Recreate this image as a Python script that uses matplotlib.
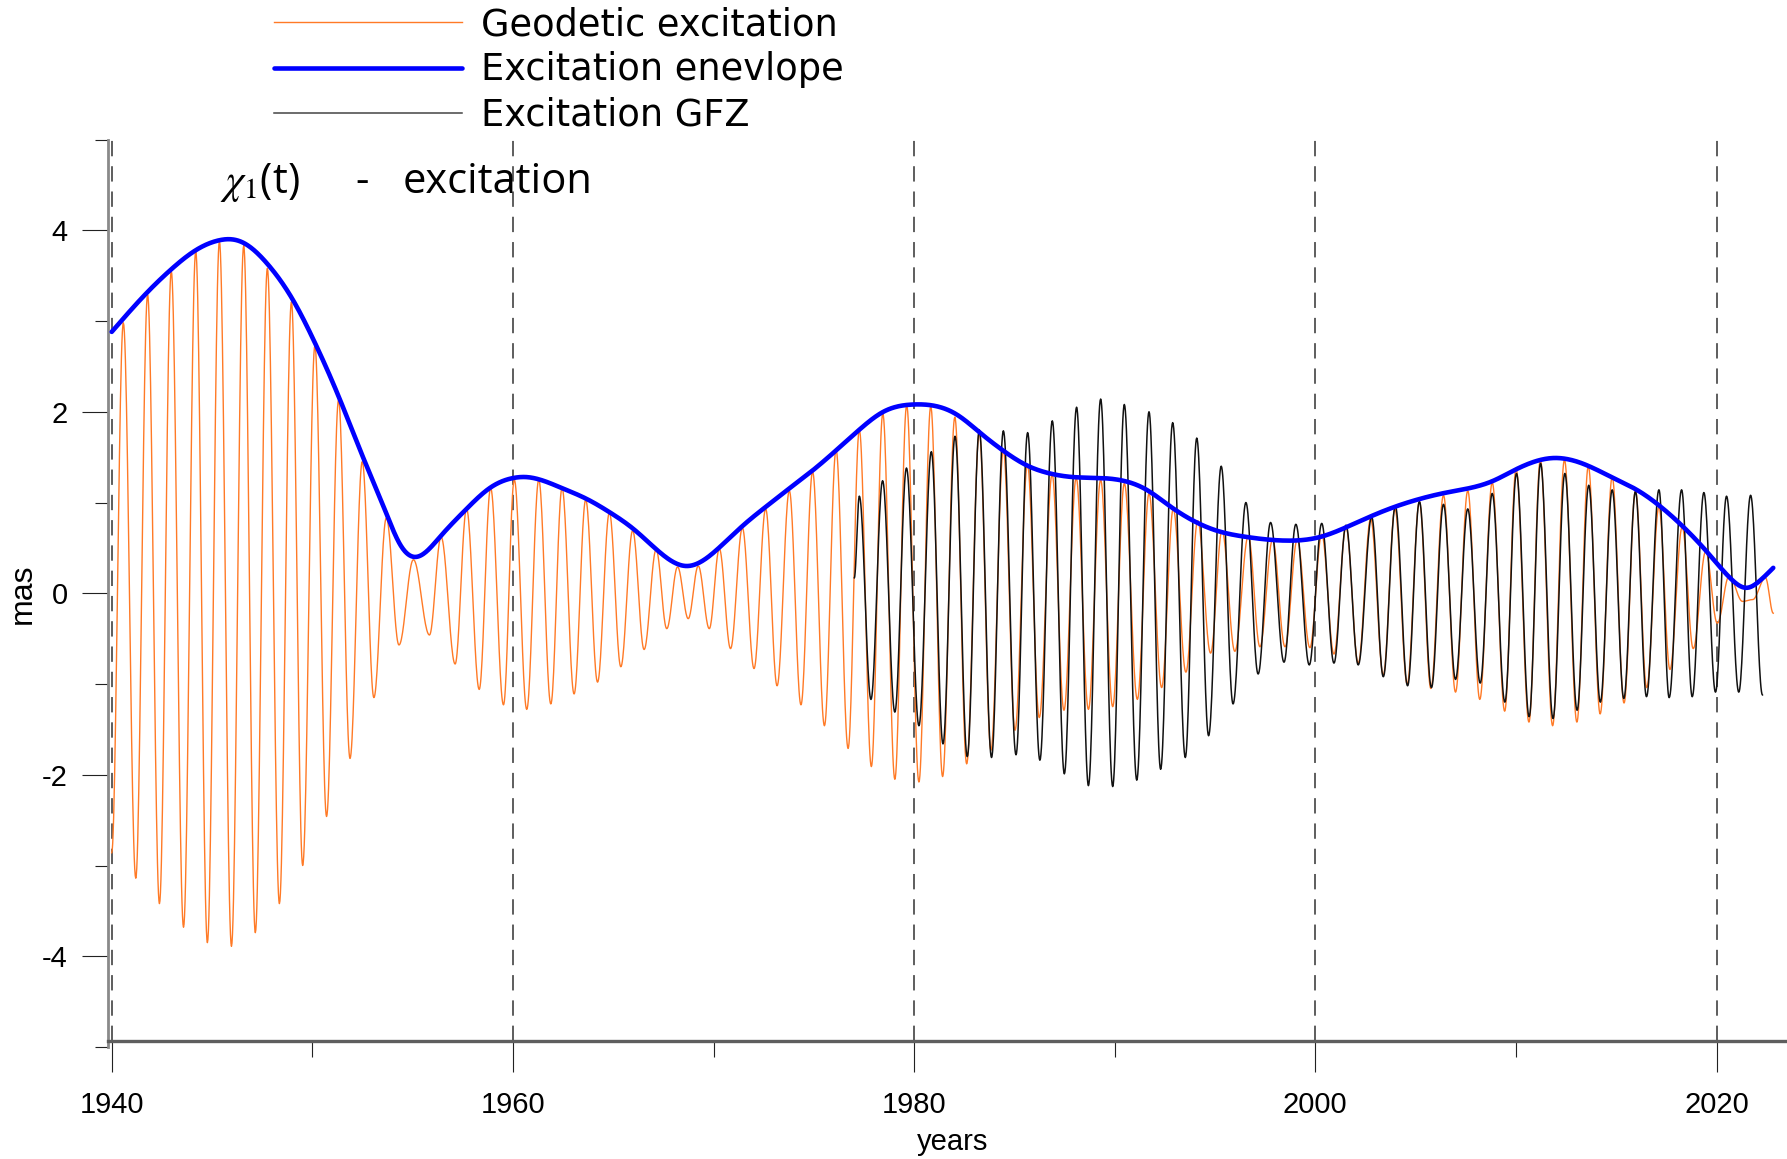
import numpy as np
import matplotlib
matplotlib.use("Agg")
import matplotlib.pyplot as plt
from matplotlib import font_manager
from matplotlib.ticker import MultipleLocator

# ---------------- data ----------------
# Geodetic excitation: successive extrema (time, value)
geo_t = [1940.00, 1940.58, 1941.20, 1941.79, 1942.38, 1942.97, 1943.58, 1944.19, 1944.77, 1945.37,
         1945.97, 1946.58, 1947.16, 1947.76, 1948.36, 1948.96, 1949.52, 1950.13, 1950.71, 1951.31,
         1951.88, 1952.49, 1953.07, 1953.69, 1954.32, 1955.04, 1955.84, 1956.42, 1957.12, 1957.69,
         1958.32, 1958.89, 1959.53, 1960.07, 1960.69, 1961.29, 1961.89, 1962.45, 1963.05, 1963.63,
         1964.22, 1964.81, 1965.38, 1965.97, 1966.54, 1967.14, 1967.67, 1968.21, 1968.74, 1969.24,
         1969.79, 1970.29, 1970.85, 1971.44, 1972.02, 1972.60, 1973.17, 1973.78, 1974.36, 1974.94,
         1975.53, 1976.11, 1976.71, 1977.27, 1977.87, 1978.44, 1979.04, 1979.63, 1980.24, 1980.83,
         1981.42, 1982.03, 1982.62, 1983.25, 1983.83, 1984.45, 1985.03, 1985.65, 1986.24, 1986.88,
         1987.47, 1988.08, 1988.69, 1989.30, 1989.90, 1990.48, 1991.13, 1991.71, 1992.34, 1992.92,
         1993.55, 1994.14, 1994.78, 1995.35, 1995.99, 1996.66, 1997.24, 1997.87, 1998.49, 1999.10,
         1999.73, 2000.32, 2000.93, 2001.53, 2002.14, 2002.76, 2003.39, 2003.97, 2004.58, 2005.19,
         2005.76, 2006.39, 2006.99, 2007.60, 2008.20, 2008.82, 2009.44, 2010.01, 2010.65, 2011.22,
         2011.83, 2012.42, 2013.04, 2013.61, 2014.20, 2014.80, 2015.39, 2015.96, 2016.52, 2017.13,
         2017.68, 2018.29, 2018.84, 2019.46, 2020.04, 2020.63, 2021.30, 2021.80, 2022.44, 2022.83]
geo_v = [-2.86, 2.98, -3.14, 3.29, -3.42, 3.55, -3.68, 3.77, -3.85, 3.88,
         -3.89, 3.83, -3.74, 3.58, -3.42, 3.21, -3.00, 2.73, -2.46, 2.13,
         -1.82, 1.45, -1.15, 0.83, -0.57, 0.37, -0.46, 0.62, -0.78, 0.93,
         -1.06, 1.16, -1.23, 1.25, -1.28, 1.25, -1.22, 1.16, -1.11, 1.03,
         -0.98, 0.89, -0.81, 0.69, -0.62, 0.48, -0.39, 0.29, -0.28, 0.30,
         -0.39, 0.49, -0.61, 0.72, -0.83, 0.93, -1.02, 1.13, -1.23, 1.34,
         -1.46, 1.58, -1.71, 1.80, -1.91, 1.98, -2.05, 2.07, -2.08, 2.06,
         -2.02, 1.94, -1.88, 1.77, -1.73, 1.58, -1.51, 1.42, -1.37, 1.31,
         -1.29, 1.27, -1.28, 1.25, -1.25, 1.21, -1.17, 1.10, -1.04, 0.93,
         -0.87, 0.80, -0.66, 0.69, -0.64, 0.63, -0.59, 0.59, -0.59, 0.59,
         -0.60, 0.65, -0.67, 0.73, -0.77, 0.82, -0.90, 0.93, -1.00, 1.01,
         -1.05, 1.08, -1.09, 1.13, -1.17, 1.22, -1.30, 1.37, -1.42, 1.47,
         -1.46, 1.47, -1.42, 1.40, -1.33, 1.28, -1.21, 1.13, -1.04, 0.95,
         -0.84, 0.73, -0.61, 0.46, -0.33, 0.19, -0.09, -0.07, 0.17, -0.22]

# Excitation GFZ: successive extrema (time, value)
gfz_t = [1977.02, 1977.27, 1977.85, 1978.43, 1979.04, 1979.62, 1980.24, 1980.86, 1981.44, 1982.04,
         1982.65, 1983.25, 1983.86, 1984.45, 1985.08, 1985.66, 1986.27, 1986.89, 1987.49, 1988.10,
         1988.69, 1989.30, 1989.90, 1990.48, 1991.10, 1991.71, 1992.29, 1992.89, 1993.52, 1994.09,
         1994.68, 1995.31, 1995.90, 1996.54, 1997.15, 1997.77, 1998.44, 1999.03, 1999.70, 2000.32,
         2000.93, 2001.53, 2002.14, 2002.81, 2003.39, 2003.99, 2004.60, 2005.19, 2005.79, 2006.39,
         2006.99, 2007.60, 2008.22, 2008.82, 2009.45, 2010.03, 2010.66, 2011.23, 2011.85, 2012.44,
         2013.05, 2013.63, 2014.21, 2014.80, 2015.38, 2015.96, 2016.51, 2017.13, 2017.64, 2018.26,
         2018.79, 2019.37, 2019.95, 2020.50, 2021.11, 2021.70, 2022.29]
gfz_v = [0.17, 1.07, -1.17, 1.24, -1.31, 1.38, -1.46, 1.56, -1.66, 1.73,
         -1.80, 1.80, -1.81, 1.79, -1.78, 1.77, -1.84, 1.90, -1.99, 2.05,
         -2.12, 2.14, -2.13, 2.08, -2.06, 2.00, -1.94, 1.88, -1.81, 1.71,
         -1.57, 1.40, -1.22, 1.00, -0.89, 0.78, -0.76, 0.76, -0.79, 0.77,
         -0.77, 0.75, -0.79, 0.84, -0.92, 0.96, -1.02, 1.01, -1.04, 0.98,
         -0.95, 0.93, -0.99, 1.10, -1.20, 1.32, -1.36, 1.43, -1.38, 1.32,
         -1.29, 1.19, -1.20, 1.14, -1.16, 1.12, -1.14, 1.14, -1.15, 1.14,
         -1.14, 1.11, -1.09, 1.07, -1.09, 1.08, -1.12]

# Excitation envelope: points along the curve (time, value)
env_t = [1940.00, 1941.79, 1942.97, 1944.19, 1945.37, 1945.98, 1946.58, 1947.76, 1948.96, 1950.13,
         1951.31, 1952.49, 1953.67, 1954.37, 1955.12, 1956.36, 1957.69, 1958.85, 1960.02, 1960.68,
         1962.43, 1963.67, 1964.84, 1966.00, 1967.17, 1968.66, 1970.32, 1971.49, 1972.65, 1973.81,
         1974.98, 1976.14, 1977.31, 1978.47, 1979.97, 1981.13, 1982.12, 1983.28, 1984.45, 1985.61,
         1986.77, 1987.93, 1989.26, 1990.42, 1991.59, 1992.75, 1993.91, 1995.08, 1996.58, 1998.57,
         2000.24, 2001.57, 2002.90, 2004.06, 2005.22, 2006.55, 2007.72, 2008.88, 2009.87, 2011.86,
         2013.19, 2014.86, 2016.02, 2017.18, 2018.35, 2019.51, 2020.67, 2021.50, 2022.17, 2022.83]
env_v = [2.88, 3.32, 3.57, 3.78, 3.89, 3.90, 3.86, 3.63, 3.26, 2.76,
         2.17, 1.52, 0.89, 0.54, 0.40, 0.62, 0.93, 1.16, 1.27, 1.28,
         1.16, 1.04, 0.89, 0.71, 0.48, 0.30, 0.51, 0.75, 0.96, 1.16,
         1.36, 1.58, 1.81, 2.00, 2.08, 2.06, 1.97, 1.77, 1.57, 1.41,
         1.32, 1.28, 1.27, 1.24, 1.14, 0.96, 0.80, 0.69, 0.62, 0.58,
         0.62, 0.73, 0.86, 0.96, 1.04, 1.11, 1.16, 1.24, 1.35, 1.49,
         1.44, 1.27, 1.14, 0.96, 0.73, 0.46, 0.17, 0.06, 0.14, 0.28]

grid_years = [1940, 1960, 1980, 2000, 2020]
series_labels = ["Geodetic excitation", "Excitation enevlope", "Excitation GFZ"]
title_parts = [r"$\chi_1$(t)", "-", "excitation"]
x_label = "years"
y_label = "mas"


# ---------------- curve rendering helpers (smooth drawing through read points) ----------------
def wave_curve(t, v, n=24):
    """Smooth oscillation drawn through successive extrema."""
    xs, ys = [], []
    for i in range(len(t) - 1):
        s = np.linspace(0.0, 1.0, n, endpoint=False)
        xs.append(t[i] + (t[i + 1] - t[i]) * s)
        ys.append(v[i] + (v[i + 1] - v[i]) * (1 - np.cos(np.pi * s)) / 2)
    xs.append([t[-1]])
    ys.append([v[-1]])
    return np.concatenate(xs), np.concatenate(ys)


def spline_curve(t, v, n=30):
    """Natural cubic spline drawn through the given points."""
    t = np.asarray(t, float)
    v = np.asarray(v, float)
    k = len(t)
    h = np.diff(t)
    A = np.zeros((k, k))
    r = np.zeros(k)
    A[0, 0] = A[-1, -1] = 1.0
    for i in range(1, k - 1):
        A[i, i - 1] = h[i - 1]
        A[i, i] = 2 * (h[i - 1] + h[i])
        A[i, i + 1] = h[i]
        r[i] = 6 * ((v[i + 1] - v[i]) / h[i] - (v[i] - v[i - 1]) / h[i - 1])
    M = np.linalg.solve(A, r)
    xs, ys = [], []
    for i in range(k - 1):
        x = np.linspace(t[i], t[i + 1], n, endpoint=False)
        a = t[i + 1] - x
        b = x - t[i]
        y = (M[i] * a**3 + M[i + 1] * b**3) / (6 * h[i]) \
            + (v[i] / h[i] - M[i] * h[i] / 6) * a + (v[i + 1] / h[i] - M[i + 1] * h[i] / 6) * b
        xs.append(x)
        ys.append(y)
    xs.append([t[-1]])
    ys.append([v[-1]])
    return np.concatenate(xs), np.concatenate(ys)


# ---------------- fonts ----------------
available = {f.name for f in font_manager.fontManager.ttflist}
sans = "Liberation Sans" if "Liberation Sans" in available else "DejaVu Sans"
if "Liberation Sans Narrow" in available:
    title_font, title_size = "Liberation Sans Narrow", 38
else:
    title_font, title_size = "Open Sans", 30
plt.rcParams["mathtext.fontset"] = "stix"
plt.rcParams["axes.unicode_minus"] = False

# ---------------- figure ----------------
W, H = 1787, 1159
fig = plt.figure(figsize=(W / 100, H / 100), dpi=100)
ax = fig.add_axes([108 / W, (H - 1047) / H, (W - 108) / W, 907.5 / H])

x0 = 1940 + (108 - 111.7) / 20.06
x1 = 1940 + (W - 111.7) / 20.06
ax.set_xlim(x0, x1)
ax.set_ylim(-5, 5)

gx, gy = wave_curve(geo_t, geo_v)
fx, fy = wave_curve(gfz_t, gfz_v)
ex, ey = spline_curve(env_t, env_v)

l_geo, = ax.plot(gx, gy, color="#ff7a26", lw=1.0, zorder=3, label=series_labels[0])
l_gfz, = ax.plot(fx, fy, color="#111111", lw=1.1, zorder=4, label=series_labels[2])
l_env, = ax.plot(ex, ey, color="#0000ff", lw=3.3, zorder=5, solid_capstyle="round",
                 label=series_labels[1])

bottom_val = -4.935
for yr in grid_years:
    ax.plot([yr, yr], [bottom_val, 5], color="#505050", lw=1.3, dashes=(8.5, 5.5), zorder=1)

# spines
ax.spines["top"].set_visible(False)
ax.spines["right"].set_visible(False)
ax.spines["bottom"].set_position(("data", bottom_val))
ax.spines["bottom"].set_color("#5e5e5e")
ax.spines["bottom"].set_linewidth(2.4)
ax.spines["left"].set_color("#8a8a8a")
ax.spines["left"].set_linewidth(2.0)

ax.xaxis.set_major_locator(MultipleLocator(20))
ax.xaxis.set_minor_locator(MultipleLocator(10))
ax.yaxis.set_major_locator(MultipleLocator(2))
ax.yaxis.set_minor_locator(MultipleLocator(1))

ax.tick_params(axis="x", which="major", direction="out", length=22, width=0.8,
               color="#222222", pad=14, labelsize=21)
ax.tick_params(axis="x", which="minor", direction="out", length=11.5, width=0.8,
               color="#222222")
ax.tick_params(axis="y", which="major", direction="out", length=19, width=0.8,
               color="#222222", pad=10, labelsize=21)
ax.tick_params(axis="y", which="minor", direction="out", length=9.5, width=0.8,
               color="#222222")
for lab in ax.get_xticklabels() + ax.get_yticklabels():
    lab.set_fontfamily(sans)

ax.set_xlabel(x_label, fontsize=21, fontfamily=sans)
ax.xaxis.set_label_coords((953 - 108) / (W - 108), (1047 - 1142) / 907.5)
ax.xaxis.label.set_verticalalignment("center")
ax.set_ylabel(y_label, fontsize=23, fontfamily=sans)
ax.yaxis.set_label_coords((23 - 108) / (W - 108), 0.5)
ax.yaxis.label.set_verticalalignment("center")

# title pieces
base_y = 1 - 193 / H
fig.text(220 / W, base_y, title_parts[0], fontsize=title_size, fontfamily=title_font,
         va="baseline", ha="left")
fig.text(362 / W, base_y, title_parts[1], fontsize=title_size, fontfamily=title_font,
         va="baseline", ha="center")
fig.text(403 / W, base_y, title_parts[2], fontsize=title_size, fontfamily=title_font,
         va="baseline", ha="left")

# legend
fs = 26.5
fs_px = fs * 100 / 72
leg = ax.legend(handles=[l_geo, l_env, l_gfz], labels=series_labels,
                loc="upper left", bbox_to_anchor=(273.8 / W, 1 - 6 / H),
                bbox_transform=fig.transFigure, frameon=False,
                prop={"family": "DejaVu Sans", "size": fs},
                handlelength=188 / fs_px, handletextpad=19 / fs_px,
                borderpad=0, borderaxespad=0, labelspacing=0.23)
leg.get_lines()[0].set_linewidth(1.0)
leg.get_lines()[2].set_color("#444444")

fig.savefig("out.png", dpi=100)
